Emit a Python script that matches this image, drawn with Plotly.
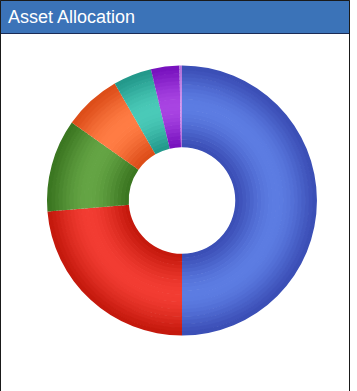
import plotly.graph_objects as go
import math

# ---- data ----
categories = ["Asset 1", "Asset 2", "Asset 3", "Asset 4", "Asset 5", "Asset 6", "Asset 7"]
values = [50.0, 23.7, 11.1, 6.9, 4.6, 3.4, 0.3]
dark_colors = ["#3a4db5", "#c4180c", "#3a7520", "#dc4c18", "#22978a", "#7610bd", "#b070d8"]
light_colors = ["#5c7ce2", "#f23c32", "#64a444", "#ff7c44", "#4acab8", "#a844e2", "#cc90ec"]
title_text = "Asset Allocation"

W, H = 357, 391
CX, CY = 182.0, 200.5   # donut centre (px)
R = 135.0               # outer radius (px)
HOLE = 0.4
NB = 22                 # shading bands


def hex2rgb(h):
    h = h.lstrip("#")
    return [int(h[i:i + 2], 16) for i in (0, 2, 4)]


def mix(c1, c2, f):
    a, b = hex2rgb(c1), hex2rgb(c2)
    return "rgb(%d,%d,%d)" % tuple(round(a[k] + (b[k] - a[k]) * f) for k in range(3))


fig = go.Figure()
for i in range(NB):
    r_in = HOLE + (1 - HOLE) * i / NB
    r_out = HOLE + (1 - HOLE) * (i + 1) / NB
    t = (i + 0.5) / NB
    f = math.sin(math.pi * t) ** 1.3
    cols = [mix(d, l, f) for d, l in zip(dark_colors, light_colors)]
    ro_px = r_out * R
    ri_px = max(r_in * R - 0.7, 0)
    fig.add_trace(go.Pie(
        labels=categories,
        values=values,
        sort=False,
        direction="clockwise",
        rotation=0,
        hole=ri_px / ro_px,
        textinfo="none",
        hoverinfo="label+percent",
        marker=dict(colors=cols, line=dict(width=0)),
        domain=dict(x=[(CX - ro_px) / W, (CX + ro_px) / W],
                    y=[1 - (CY + ro_px) / H, 1 - (CY - ro_px) / H]),
        showlegend=False,
    ))

fig.update_layout(
    width=W, height=H,
    margin=dict(l=0, r=0, t=0, b=0),
    paper_bgcolor="white",
    plot_bgcolor="white",
    shapes=[
        dict(type="rect", xref="paper", yref="paper",
             x0=0.5 / W, x1=349.5 / W, y0=1 - 33.5 / H, y1=1 - 0.5 / H,
             fillcolor="#3b73b8", line=dict(color="#1b2b55", width=1), layer="below"),
        dict(type="rect", xref="paper", yref="paper",
             x0=0.5 / W, x1=349.5 / W, y0=-0.01, y1=1 - 0.5 / H,
             fillcolor="rgba(0,0,0,0)", line=dict(color="#1a1a1a", width=1)),
    ],
    annotations=[
        dict(text=title_text, xref="paper", yref="paper",
             x=6 / W, y=1 - 16.5 / H, xanchor="left", yanchor="middle",
             showarrow=False,
             font=dict(family="Liberation Sans, Arial, sans-serif", size=18, color="white")),
    ],
)

fig.write_html("out.html")
